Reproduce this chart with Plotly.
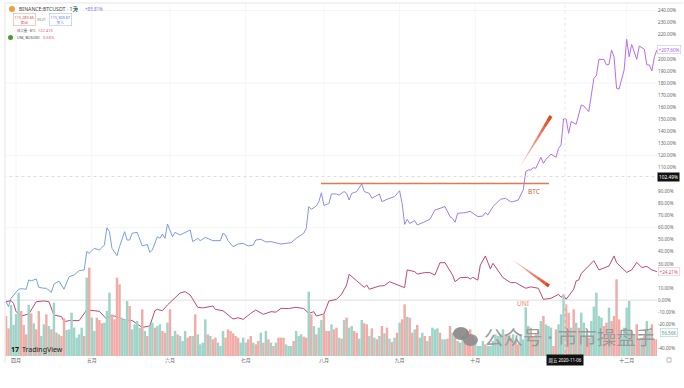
import plotly.graph_objects as go

btc_days = [0,1,2,4,5,6,8,9,10,12,13,15,16,18,19,21,22,23,25,27,29,31,32,33,35,37,39,40,41,42,44,45,47,48,49,50,52,54,56,57,58,60,61,62,63,64,66,67,69,71,73,74,76,77,79,82,85,86,87,88,90,92,94,96,98,99,101,103,105,109,113,115,117,118,119,120,121,123,124,125,126,128,129,131,132,134,135,136,137,139,141,142,144,145,148,149,151,154,156,157,158,159,160,162,163,166,168,170,172,174,176,177,178,179,182,184,187,189,190,191,193,196,198,200,201,203,205,206,207,208,209,210,212,213,214,216,218,219,220,221,222,223,224,226,228,229,231,233,234,235,237,238,239,240,241,242,243,245,246,247,248,250,251,253,254,255,256,257,258]
btc_pct = [-1.3,-5.4,1.5,7,9,9.5,9,16.7,16,17.5,10.6,9.8,9.8,6.4,13.3,15.8,12.5,9,19.4,20.8,24.4,25,40.2,38.8,43,41.5,45.7,60,56.7,43,36.8,44.3,56.7,49.8,49.8,55.4,56.2,44.9,46.2,39.6,41.5,52.6,51.2,54.8,51.2,63.1,52.6,56.2,54,56.2,58.1,48.5,51.2,49.3,52,49.3,49.3,55.4,54,49.3,44.3,46.5,47,44.9,45.7,49.8,50.4,48.2,48.5,46.5,47.6,51.2,54,55.4,59.5,77.5,75.3,78,81.6,89,78.5,80,88,88,87,90,88.5,83,88.5,90,96.3,90,88.5,84.4,88,81.6,83.6,85.8,90.7,80.2,62.8,67,63.6,65.9,62.3,65,67,74.7,76,77.5,69.2,67.8,64.5,72,72.5,73.6,69.2,69.7,72.5,70.6,77.5,83.6,84.4,81.6,81.6,83,91.3,106.5,107.9,107.9,109.8,109.3,118.4,113.4,116.7,121,118.4,125.8,128.6,150.2,150.2,138.3,148,145.8,161.8,161,156.3,183.9,186,199.6,199.6,195,195.5,207.4,201.8,175.6,175,190.8,216.2,201.8,212,199.6,210.7,208,195,195,190,201.8,207.4]

uni_days = [0,2,3,4,6,9,10,12,15,17,19,22,23,25,29,32,35,37,40,41,43,47,50,54,57,59,60,62,64,67,69,71,73,76,78,82,83,86,90,92,94,97,99,102,105,107,109,112,115,118,120,122,123,126,128,131,133,135,136,139,142,143,144,148,150,152,156,158,159,162,163,166,168,170,172,174,177,178,180,183,184,185,187,188,190,192,193,197,200,202,206,208,211,213,216,219,220,221,222,225,226,227,228,233,235,239,241,242,246,248,250,252,254,256,258]
uni_pct = [-1.3,-0.5,-2.7,-9.6,-13.2,-11.5,-8.2,-1.3,-0.7,-1.3,-12.4,-13.7,-17.9,-17,-17,-8.2,-8.8,-9.3,-16,-13.2,-13.2,-16.5,-17,-22.6,-21.5,-8.8,-7.7,-8.8,-4,1.5,5.9,7,4.2,-6,-6.5,-4.9,-7.7,-8.8,-15.7,-14.6,-16,-11,-8.2,-11.8,-9.6,-10,-6.8,-7,-6,-7,-11,-9.6,-13.2,-11.5,-0.7,0.6,4.8,12.5,21.4,16,10.6,12.5,9,11.7,12,15.3,11.7,10.3,25,23.6,21.6,22.8,22.8,20.8,31,31,20.8,15.3,18.6,18.9,17.5,18.9,16.6,29,36.6,25.8,30.5,18.6,14.5,14.5,9.8,11,9.8,0.6,1.5,4.8,2.3,4.2,0.6,9,16,16.7,22,32.7,25,28.3,36.6,31,23,25,31.3,27,28,25,23.6]

vol_heights = [120,83,153,93,126,190,135,93,65,153,128,98,80,135,60,95,125,90,80,160,
70,65,60,113,78,80,130,85,55,65,85,60,235,265,115,75,115,108,98,100,
135,190,125,110,235,215,115,110,165,150,80,95,105,85,140,75,60,90,100,85,
90,95,75,70,100,140,60,75,65,60,45,75,55,60,60,125,65,35,40,110,
65,60,50,55,40,30,75,55,80,75,68,60,55,40,55,40,50,60,40,35,
45,70,40,75,50,40,30,40,55,55,55,35,30,30,45,75,60,65,58,55,
193,125,90,65,85,108,125,75,75,95,80,85,55,
52,108,115,85,90,75,70,52,108,98,95,60,83,55,50,60,90,68,85,52,
42,55,70,100,110,155,118,115,70,80,93,55,70,60,45,60,85,80,83,70,
50,50,52,90,70,55,45,40,60,50,75,80,60,50,30,30,45,35,30,30,
45,65,60,65,80,65,60,55,65,45,35,65,50,146,90,85,60,65,75,105,
120,95,90,85,30,80,95,125,185,155,130,85,140,100,85,130,100,60,55,105,
148,190,120,115,90,100,145,105,120,230,110,60,85,145,165,75,65,95,50,55,
60,105,75,95,50,50]
vol_dirs = ("RRGGGGRRRGRGRRGGRGRG"
"RGRRGGGGGGGRGRGGRRRG"
"GGRRRRGGGRGGGGRGRGGR"
"GGRRGRGGRGGGRRGRGGGG"
"RGRRGGGRRRRRRGGGRRGR"
"RGRGRGRGRRRGGGRGGGRR"
"GRGRGGRRRGRRG"
"RGRGGRRGGRRGRGRGRGRG"
"RGRGRRGRRGRGGRGRGGGR"
"GGRRGRGRGRRRRGGGGRGG"
"GGGGGRGRGRRGGGGRRGRG"
"RGGGRRGGGRRGRGRGGRRG"
"GGGGRRGRRRRGGGGRGRRG"
"RGGRRR")

month_days = [4,34,65,95,126,156,186,246]
month_labels = ["四月","五月","六月","七月","八月","九月","十月","十二月"]
covered_ticks = [210,100,20,-30]
y_ticks = [v for v in range(-40,250,10) if v not in covered_ticks]
y_labels = [f"{v:.2f}%" for v in y_ticks]
btc_last = "+207.60%"
uni_last = "+24.21%"
vol_last = "56.56K"
cross_label = "102.49%"
cross_date = "周五 2020-11-06"
resistance_level = 96.7
cross_day = 221.6
cross_level = 102.49

CJK = "Noto Sans, Noto Sans CJK SC, sans-serif"
PXD = 2.523; PXP = 1.206
X = lambda px: (px-6)/PXD
Y = lambda py: (300.1-py)/PXP

fig = go.Figure()
vol_colors = ["#9fd4c9" if c=="G" else "#f1aca8" for c in vol_dirs]
fig.add_bar(x=list(range(len(vol_heights))), y=vol_heights, marker_color=vol_colors, marker_line_width=0, yaxis="y2", showlegend=False)

btc_cols = ["#70a6ea","#78a0ea","#7f9aec","#8992ee","#9688f0","#a37cf2","#ae72f2","#b86cf2"]
n = len(btc_days)
for k,c in enumerate(btc_cols):
    a = k*(n-1)//len(btc_cols); b = (k+1)*(n-1)//len(btc_cols)+1
    fig.add_scatter(x=btc_days[a:b], y=btc_pct[a:b], mode="lines", line=dict(color=c,width=1), showlegend=False)
fig.add_scatter(x=uni_days, y=uni_pct, mode="lines", line=dict(color="#c04878",width=1), showlegend=False)

shapes=[]
for v in [60,120,180,240]:
    shapes.append(dict(type="line",xref="x",yref="y",x0=-1,x1=258.5,y0=v,y1=v,line=dict(color="#f4f4f4",width=1),layer="below"))
for d in month_days:
    shapes.append(dict(type="line",xref="x",yref="paper",x0=d,x1=d,y0=0,y1=1,line=dict(color="#f6f6f6",width=1),layer="below"))
shapes.append(dict(type="line",xref="x",yref="y",x0=-1,x1=258.5,y0=0,y1=0,line=dict(color="#dedede",width=1),layer="below"))
shapes.append(dict(type="line",xref="x",yref="y",x0=-1,x1=258.5,y0=cross_level,y1=cross_level,line=dict(color="#dedede",width=1,dash="dot")))
shapes.append(dict(type="line",xref="x",yref="paper",x0=cross_day,x1=cross_day,y0=0,y1=1,line=dict(color="#e8e8e8",width=1,dash="dot")))
shapes.append(dict(type="line",xref="x",yref="y",x0=X(321),x1=X(549),y0=resistance_level,y1=resistance_level,line=dict(color="#dd7a4e",width=1.6)))

def arrow(x0,y0,x1,y1,w=1.7,steps=10):
    import math
    L=math.hypot(x1-x0,y1-y0); nx,ny=-(y1-y0)/L,(x1-x0)/L
    out=[]
    for i in range(steps):
        t0=i/steps; t1=(i+1)/steps
        p=lambda t,s:(x0+(x1-x0)*t+s*nx*w*t, y0+(y1-y0)*t+s*ny*w*t)
        pts=[p(t0,-1),p(t1,-1),p(t1,1),p(t0,1)]
        path="M "+" L ".join(f"{X(a):.3f},{Y(b):.3f}" for a,b in pts)+" Z"
        out.append(dict(type="path",xref="x",yref="y",path=path,fillcolor="#e8431f",line=dict(width=0),opacity=0.08+0.92*t1))
    return out
shapes += arrow(518,170,551,116)
shapes += arrow(510,258,549,286)

ann=[]
def T(px,py,text,size=5.5,color="#555",anchor="left",**kw):
    ann.append(dict(xref="paper",yref="paper",x=(px-5)/652,y=(356-py)/353,text=text,showarrow=False,xanchor=anchor,yanchor="middle",
                    font=dict(size=size,color=color,family=CJK),**kw))
T(17,9,"BINANCE:BTCUSDT · 1天",5.2,"#444")
T(83,9,"+85.81%",4.5,"#8a72e8")
T(24,19.5,"115,289.66<br>卖出",3.8,"#d8504a",anchor="center",bgcolor="#ffffff",bordercolor="#f0a8a4",borderwidth=0.6,borderpad=1)
T(41,19.5,"33.01",3.4,"#777",anchor="center")
T(60,19.5,"115,309.67<br>买入",3.8,"#5070d8",anchor="center",bgcolor="#ffffff",bordercolor="#b0c4f0",borderwidth=0.6,borderpad=1)
T(15,30,"成交量 · BTC",3.4,"#666")
T(36,30,"122.41K",4,"#d85a70")
T(15,37.5,"UNI, BUSUSD",3.6,"#444")
T(41,37.5,"0.56%",4,"#d85a70")
T(526,191,"BTC",6.5,"#d0603f")
T(515,303,"UNI",6.5,"#e08a70")
T(482,337,"公众号 · 市市操盘手",19.5,"#9a9a9a")
T(20,349,"TradingView",7,"#222")
T(9,349,"<b>17</b>",7,"#111")
T(669,49.5,btc_last,4.6,"#a060e8",anchor="center",bgcolor="#ffffff",bordercolor="#d8b8f5",borderwidth=0.6)
T(669,271,uni_last,4.6,"#d0557c",anchor="center",bgcolor="#ffffff",bordercolor="#f0c0d0",borderwidth=0.6)
T(669,332,vol_last,4.6,"#50a090",anchor="center",bgcolor="#ffffff",bordercolor="#a0d8cc",borderwidth=0.6)
T(669,177,cross_label,4.8,"#ffffff",anchor="center",bgcolor="#111111",borderpad=1)
T(565,360,cross_date,4.4,"#ffffff",anchor="center",bgcolor="#111111",borderpad=1.5)
T(669,360,"◎",6,"#666",anchor="center")

circ=[dict(type="circle",xref="x",yref="y",x0=X(9),x1=X(15),y0=Y(12),y1=Y(6),fillcolor="#e8a040",line=dict(width=0)),
      dict(type="circle",xref="x",yref="y",x0=X(75),x1=X(78),y0=Y(10.5),y1=Y(7.5),fillcolor="#3aa58a",line=dict(width=0)),
      dict(type="circle",xref="x",yref="y",x0=X(8),x1=X(13),y0=Y(40),y1=Y(35),fillcolor="#4e9a2e",line=dict(width=0)),
      dict(type="circle",xref="x",yref="y",x0=X(453),x1=X(469),y0=Y(340),y1=Y(327),fillcolor="#7f7f7f",line=dict(width=0),opacity=.85),
      dict(type="circle",xref="x",yref="y",x0=X(463),x1=X(478),y0=Y(346),y1=Y(334),fillcolor="#8a8a8a",line=dict(width=0),opacity=.85)]
frame=[dict(type="line",xref="paper",yref="paper",x0=0,x1=0,y0=-0.02,y1=1,line=dict(color="#eeeeee",width=1.5)),
       dict(type="line",xref="paper",yref="paper",x0=0,x1=1.04,y0=1,y1=1,line=dict(color="#eeeeee",width=1.5))]

fig.update_layout(
    width=684,height=388,margin=dict(l=5,r=27,t=3,b=32),
    paper_bgcolor="white",plot_bgcolor="white",showlegend=False,bargap=0.02,
    shapes=shapes+circ+frame,annotations=ann,
    xaxis=dict(range=[X(5),X(657)],showgrid=False,zeroline=False,showline=False,tickmode="array",
               tickvals=month_days,ticktext=month_labels,ticks="",tickfont=dict(size=5,color="#666",family=CJK)),
    yaxis=dict(range=[Y(356),Y(3)],side="right",showgrid=False,zeroline=False,showline=False,tickmode="array",
               tickvals=y_ticks,ticktext=y_labels,ticks="",tickfont=dict(size=4.6,color="#666",family=CJK)),
    yaxis2=dict(range=[0,1059],overlaying="y",showgrid=False,zeroline=False,showticklabels=False,visible=False),
)
fig.write_html("out.html", config={"displayModeBar":False}, post_script="document.body.style.margin='0';document.documentElement.style.overflow='hidden';")
